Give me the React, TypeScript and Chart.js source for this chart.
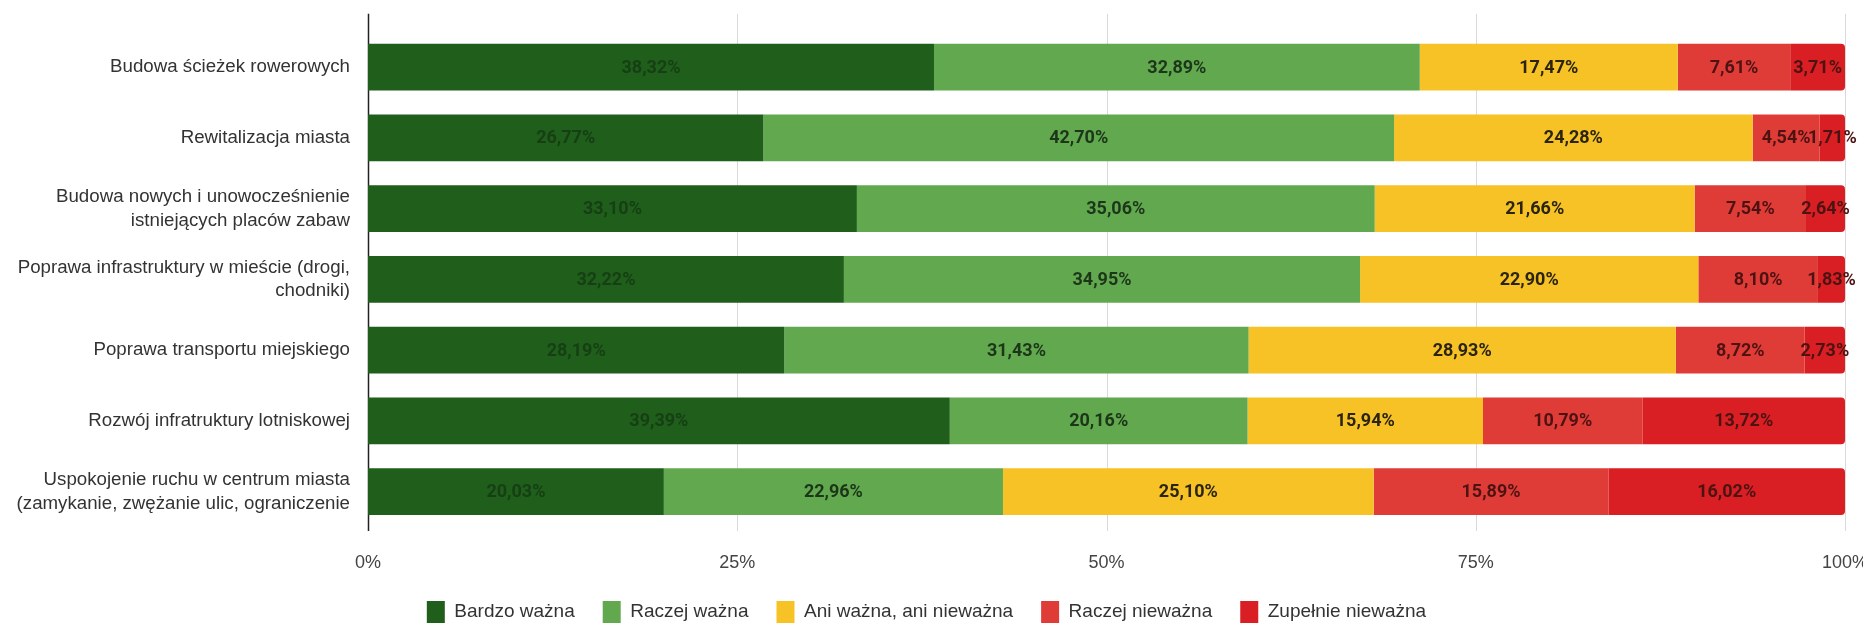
import React, { useEffect, useRef } from "react";
import { Chart, registerables } from "chart.js";

Chart.register(...registerables);

const categories: (string | string[])[] = [
  "Budowa ścieżek rowerowych",
  "Rewitalizacja miasta",
  ["Budowa nowych i unowocześnienie", "istniejących placów zabaw"],
  ["Poprawa infrastruktury w mieście (drogi,", "chodniki)"],
  "Poprawa transportu miejskiego",
  "Rozwój infratruktury lotniskowej",
  ["Uspokojenie ruchu w centrum miasta", "(zamykanie, zwężanie ulic, ograniczenie"],
];

const seriesNames = [
  "Bardzo ważna",
  "Raczej ważna",
  "Ani ważna, ani nieważna",
  "Raczej nieważna",
  "Zupełnie nieważna",
];

const bardzoWazna = [38.32, 26.77, 33.1, 32.22, 28.19, 39.39, 20.03];
const raczejWazna = [32.89, 42.7, 35.06, 34.95, 31.43, 20.16, 22.96];
const aniWaznaAniNiewazna = [17.47, 24.28, 21.66, 22.9, 28.93, 15.94, 25.1];
const raczejNiewazna = [7.61, 4.54, 7.54, 8.1, 8.72, 10.79, 15.89];
const zupelnieNiewazna = [3.71, 1.71, 2.64, 1.83, 2.73, 13.72, 16.02];

const xTicks = [0, 25, 50, 75, 100];

const colors = ["#1f5e1b", "#62a84f", "#f6c226", "#e03c37", "#d91f23"];
const labelColors = ["#163f13", "#1c3619", "#2a2410", "#4d1313", "#4d1313"];

const fmt = (v: number) => v.toFixed(2).replace(".", ",") + "%";

const segmentLabels = {
  id: "segmentLabels",
  afterDatasetsDraw(chart: any) {
    const ctx = chart.ctx;
    ctx.save();
    ctx.textAlign = "center";
    ctx.textBaseline = "middle";
    chart.data.datasets.forEach((ds: any, di: number) => {
      const meta = chart.getDatasetMeta(di);
      ctx.font = "bold 18px 'Liberation Sans Narrow', 'Roboto', 'Liberation Sans', sans-serif";
      ctx.fillStyle = labelColors[di];
      meta.data.forEach((bar: any, i: number) => {
        const v = ds.data[i];
        const cx = (bar.x + bar.base) / 2;
        ctx.fillText(fmt(v), cx, bar.y + 1);
      });
    });
    ctx.restore();
  },
};

const extendedGrid = {
  id: "extendedGrid",
  beforeDatasetsDraw(chart: any) {
    const ctx = chart.ctx;
    const area = chart.chartArea;
    const xs = chart.scales.x;
    ctx.save();
    xTicks.forEach((t) => {
      const px = Math.round(xs.getPixelForValue(t)) + 0.5;
      ctx.beginPath();
      ctx.strokeStyle = t === 0 ? "#222" : "#d9d9d9";
      ctx.lineWidth = t === 0 ? 1.5 : 1;
      ctx.moveTo(px, area.top - 18);
      ctx.lineTo(px, area.bottom + 4);
      ctx.stroke();
    });
    ctx.restore();
  },
};

export default function App() {
  const ref = useRef<HTMLCanvasElement | null>(null);

  useEffect(() => {
    if (!ref.current) return;
    const values = [bardzoWazna, raczejWazna, aniWaznaAniNiewazna, raczejNiewazna, zupelnieNiewazna];
    const chart = new Chart(ref.current, {
      type: "bar",
      data: {
        labels: categories,
        datasets: values.map((d, i) => ({
          label: seriesNames[i],
          data: d,
          backgroundColor: colors[i],
          borderWidth: 0,
          barPercentage: 0.66,
          categoryPercentage: 1,
          borderRadius: i === values.length - 1 ? 4 : 0,
        })),
      },
      options: {
        indexAxis: "y",
        animation: false,
        responsive: true,
        maintainAspectRatio: false,
        layout: { padding: { top: 10, right: 26, left: 0, bottom: -6 } },
        scales: {
          x: {
            stacked: true,
            min: 0,
            max: 100,
            afterTickToLabelConversion: (scale: any) => {
              scale.ticks = scale.ticks.filter((t: any) => xTicks.includes(t.value));
            },
            grid: { display: false },
            border: { display: false },
            afterFit: (scale: any) => {
              scale.height = 46;
            },
            ticks: {
              stepSize: 25,
              padding: 0,
              color: "#444",
              font: { size: 18, family: "'Liberation Sans', Arial, sans-serif", lineHeight: 57 / 18 },
              callback: (v: any) => v + "%",
            },
          },
          y: {
            stacked: true,
            grid: { display: false },
            border: { display: false },
            afterFit: (scale: any) => {
              scale.width = 360;
            },
            ticks: {
              padding: 10,
              color: "#333",
              font: { size: 18.7, family: "'Liberation Sans', Arial, sans-serif", lineHeight: 1.27 },
            },
          },
        },
        plugins: {
          legend: {
            position: "bottom",
            labels: {
              boxWidth: 18,
              boxHeight: 22,
              padding: 28,
              color: "#333",
              font: { size: 19, family: "'Liberation Sans', Arial, sans-serif" },
            },
          },
          tooltip: { enabled: false },
        },
      },
      plugins: [extendedGrid, segmentLabels],
    });
    return () => chart.destroy();
  }, []);

  return (
    <div style={{ width: 1863, height: 629, marginTop: -10, position: "relative" }}>
      <canvas ref={ref} />
    </div>
  );
}
